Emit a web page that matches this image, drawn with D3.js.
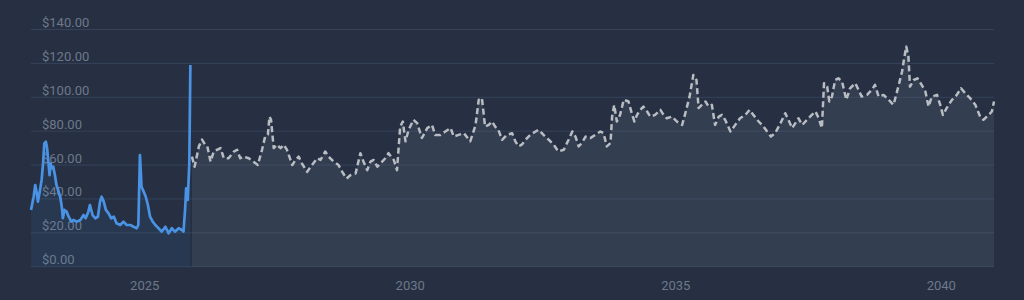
<!DOCTYPE html>
<html>
<head>
<meta charset="utf-8">
<script src="https://cdn.jsdelivr.net/npm/d3@7"></script>
<style>
  html, body { margin: 0; padding: 0; background: #263042; }
  #chart { width: 1024px; height: 300px; }
  text { font-family: Roboto, 'Noto Sans', sans-serif; }
</style>
</head>
<body>
<div id="chart"></div>
<script>
// ------------- Data (decimal years / USD) ----------------- //
const histYears = [
  2022.87, 2022.92, 2022.95, 2022.98, 2023.00, 2023.04, 2023.07, 2023.10, 2023.12, 2023.15,
  2023.17, 2023.20, 2023.22, 2023.24, 2023.26, 2023.29, 2023.32, 2023.35, 2023.39, 2023.42,
  2023.45, 2023.47, 2023.50, 2023.54, 2023.58, 2023.63, 2023.67, 2023.73, 2023.80, 2023.86,
  2023.90, 2023.95, 2023.98, 2024.03, 2024.08, 2024.13, 2024.17, 2024.20, 2024.24, 2024.28,
  2024.33, 2024.38, 2024.43, 2024.48, 2024.55, 2024.61, 2024.67, 2024.74, 2024.80, 2024.86,
  2024.89, 2024.92, 2024.95, 2024.99, 2025.03, 2025.07, 2025.11, 2025.16, 2025.21, 2025.27,
  2025.33, 2025.40, 2025.46, 2025.52, 2025.58, 2025.65, 2025.71, 2025.74, 2025.77, 2025.79,
  2025.82, 2025.85, 2025.87
];
const histPrices = [
  33.5, 41.3, 48.2, 43.3, 38.4, 45.3, 51.2, 62.0, 72.8, 73.8,
  70.8, 61.0, 54.1, 61.0, 58.1, 59.0, 54.1, 48.2, 44.3, 41.3,
  35.4, 28.6, 33.5, 32.5, 29.5, 26.6, 27.6, 26.6, 27.6, 30.5,
  28.6, 32.5, 36.4, 30.5, 28.6, 29.5, 38.4, 41.3, 38.4, 33.5,
  31.5, 28.6, 29.5, 25.6, 24.6, 26.6, 24.6, 24.6, 23.6, 22.7,
  24.6, 65.9, 47.2, 44.3, 41.3, 36.4, 29.5, 26.6, 24.6, 22.7,
  20.7, 23.6, 19.7, 22.7, 20.7, 22.7, 21.7, 20.7, 33.5, 46.3,
  39.4, 61.0, 119.0
];

const forecastYears = [
  2025.90, 2025.95, 2026.03, 2026.09, 2026.15, 2026.19, 2026.25, 2026.31, 2026.44, 2026.50,
  2026.59, 2026.69, 2026.75, 2026.81, 2026.87, 2026.97, 2027.06, 2027.14, 2027.22, 2027.28,
  2027.33, 2027.36, 2027.39, 2027.44, 2027.50, 2027.57, 2027.63, 2027.69, 2027.79, 2027.85,
  2027.91, 2027.97, 2028.07, 2028.16, 2028.26, 2028.32, 2028.41, 2028.47, 2028.57, 2028.66,
  2028.73, 2028.81, 2028.88, 2028.98, 2029.07, 2029.13, 2029.20, 2029.26, 2029.32, 2029.39,
  2029.45, 2029.54, 2029.60, 2029.70, 2029.76, 2029.82, 2029.87, 2029.92, 2029.98, 2030.07,
  2030.14, 2030.23, 2030.33, 2030.42, 2030.48, 2030.58, 2030.67, 2030.77, 2030.83, 2030.92,
  2031.02, 2031.14, 2031.24, 2031.30, 2031.36, 2031.42, 2031.49, 2031.55, 2031.61, 2031.67,
  2031.74, 2031.83, 2031.93, 2031.99, 2032.05, 2032.11, 2032.18, 2032.27, 2032.37, 2032.43,
  2032.52, 2032.62, 2032.71, 2032.80, 2032.90, 2032.99, 2033.06, 2033.12, 2033.18, 2033.24,
  2033.31, 2033.40, 2033.49, 2033.59, 2033.65, 2033.71, 2033.78, 2033.81, 2033.85, 2033.90,
  2033.96, 2034.03, 2034.12, 2034.18, 2034.23, 2034.28, 2034.34, 2034.40, 2034.47, 2034.53,
  2034.62, 2034.72, 2034.78, 2034.84, 2034.94, 2035.03, 2035.13, 2035.19, 2035.27, 2035.34,
  2035.40, 2035.44, 2035.50, 2035.57, 2035.63, 2035.69, 2035.75, 2035.82, 2035.88, 2035.94,
  2036.04, 2036.13, 2036.22, 2036.32, 2036.40, 2036.47, 2036.57, 2036.66, 2036.73, 2036.80,
  2036.88, 2036.98, 2037.07, 2037.13, 2037.20, 2037.26, 2037.32, 2037.39, 2037.48, 2037.57,
  2037.64, 2037.70, 2037.76, 2037.80, 2037.86, 2037.90, 2037.95, 2038.01, 2038.07, 2038.14,
  2038.22, 2038.29, 2038.39, 2038.45, 2038.51, 2038.61, 2038.70, 2038.76, 2038.83, 2038.92,
  2039.02, 2039.11, 2039.20, 2039.27, 2039.31, 2039.35, 2039.39, 2039.42, 2039.49, 2039.56,
  2039.64, 2039.71, 2039.77, 2039.83, 2039.93, 2039.99, 2040.04, 2040.11, 2040.21, 2040.30,
  2040.38, 2040.46, 2040.55, 2040.65, 2040.74, 2040.80, 2040.90, 2040.96, 2041.00
];
const forecastPrices = [
  65.0, 59.0, 71.0, 75.0, 72.0, 71.0, 62.0, 68.0, 70.0, 64.0,
  64.0, 68.0, 69.0, 64.0, 65.0, 64.0, 62.0, 60.0, 69.0, 77.0,
  78.0, 88.6, 86.7, 70.0, 72.0, 70.0, 72.0, 69.0, 60.0, 63.0,
  65.0, 61.0, 56.0, 60.0, 64.0, 63.0, 68.0, 65.0, 62.0, 60.0,
  56.0, 52.0, 54.0, 55.0, 67.0, 62.0, 57.0, 62.0, 63.0, 59.0,
  61.0, 64.0, 67.0, 63.0, 57.0, 82.7, 85.7, 74.0, 80.8, 86.7,
  84.7, 76.0, 81.8, 83.7, 77.8, 77.8, 79.8, 81.8, 76.8, 77.8,
  78.8, 74.0, 83.5, 98.5, 99.5, 82.7, 83.7, 85.7, 82.7, 80.8,
  74.9, 77.8, 78.8, 74.0, 71.0, 72.0, 74.9, 77.8, 79.8, 80.8,
  77.8, 74.9, 72.0, 68.0, 69.0, 74.9, 79.8, 76.8, 71.0, 73.0,
  76.8, 75.9, 77.8, 79.8, 78.8, 71.0, 73.0, 88.6, 95.5, 85.7,
  89.6, 98.5, 97.5, 90.6, 85.7, 89.6, 92.6, 94.5, 91.6, 88.6,
  89.6, 92.6, 89.6, 87.6, 88.6, 85.7, 83.7, 90.6, 100.4, 113.2,
  110.2, 93.6, 95.5, 97.5, 94.5, 95.5, 83.7, 88.6, 89.6, 86.7,
  79.8, 83.7, 87.6, 89.6, 92.6, 89.6, 85.7, 82.7, 79.8, 76.8,
  78.8, 84.7, 90.6, 86.7, 81.8, 84.7, 87.6, 83.7, 86.7, 89.6,
  91.6, 87.6, 81.8, 108.3, 106.3, 97.5, 100.4, 110.2, 111.2, 109.3,
  98.5, 105.3, 108.3, 104.4, 100.4, 101.4, 104.4, 107.3, 100.4, 101.4,
  98.5, 95.5, 106.3, 115.1, 123.0, 129.9, 124.0, 106.3, 110.2, 111.2,
  107.3, 103.4, 94.5, 100.4, 101.4, 95.5, 89.6, 93.6, 98.5, 101.4,
  105.3, 102.4, 99.5, 95.5, 88.6, 86.7, 89.6, 91.6, 97.5
];

const yTicks = [0, 20, 40, 60, 80, 100, 120, 140];

// decimal year -> Date
function toDate(y) {
  const yr = Math.floor(y);
  const start = new Date(yr, 0, 1);
  const end = new Date(yr + 1, 0, 1);
  return new Date(+start + (y - yr) * (end - start));
}

const hist = histYears.map((y, i) => ({ date: toDate(y), value: histPrices[i] }));
const forecast = forecastYears.map((y, i) => ({ date: toDate(y), value: forecastPrices[i] }));

// ------------- Layout ----------------- //
const panelWidth = 1024;
const panelHeight = 300;
const margin = { top: 29.5, right: 30, bottom: 33.3, left: 31 },
  width = panelWidth - margin.left - margin.right,
  height = panelHeight - margin.top - margin.bottom;

const svg = d3
  .select('#chart')
  .append('svg')
  .attr('width', panelWidth)
  .attr('height', panelHeight)
  .append('g')
  .attr('transform', 'translate(' + margin.left + ',' + margin.top + ')');

// scales
const x = d3
  .scaleTime()
  .domain(d3.extent(hist.concat(forecast), (d) => d.date))
  .range([0, width]);

const y = d3.scaleLinear().domain([0, 140]).range([height, 0]);

// gridlines
svg
  .append('g')
  .selectAll('line')
  .data(yTicks)
  .join('line')
  .attr('x1', 0)
  .attr('x2', width)
  .attr('y1', (d) => y(d))
  .attr('y2', (d) => y(d))
  .attr('stroke', '#36425a')
  .attr('stroke-width', 1);

// y labels (sit under the lines)
svg
  .append('g')
  .selectAll('text')
  .data(yTicks)
  .join('text')
  .attr('x', 11)
  .attr('y', (d) => y(d) - 2.5)
  .attr('fill', '#6d798b')
  .attr('font-size', '13px')
  .text((d) => d3.format('$.2f')(d));

// areas
const area = d3
  .area()
  .x((d) => x(d.date))
  .y0(y(0))
  .y1((d) => y(d.value));

svg
  .append('path')
  .datum(hist)
  .attr('fill', 'rgba(70,140,225,0.09)')
  .attr('d', area);

svg
  .append('path')
  .datum(forecast)
  .attr('fill', 'rgba(150,162,182,0.12)')
  .attr('d', area);

// lines
const line = d3
  .line()
  .x((d) => x(d.date))
  .y((d) => y(d.value));

svg
  .append('path')
  .datum(forecast)
  .attr('fill', 'none')
  .attr('stroke', '#b9bdc3')
  .attr('stroke-width', 2.5)
  .attr('stroke-dasharray', '6,3.5')
  .attr('stroke-linejoin', 'round')
  .attr('d', line);

svg
  .append('path')
  .datum(hist)
  .attr('fill', 'none')
  .attr('stroke', '#4a92e3')
  .attr('stroke-width', 2.7)
  .attr('stroke-linejoin', 'round')
  .attr('d', line);

// x axis
const xAxis = d3
  .axisBottom(x)
  .ticks(d3.timeYear.every(5))
  .tickFormat(d3.timeFormat('%Y'))
  .tickSize(0)
  .tickPadding(14);

svg
  .append('g')
  .attr('transform', 'translate(0,' + height + ')')
  .call(xAxis)
  .call((g) => g.select('.domain').remove())
  .selectAll('text')
  .attr('fill', '#6d798b')
  .attr('font-size', '13px')
  .attr('font-family', 'Roboto, sans-serif');
</script>
</body>
</html>
